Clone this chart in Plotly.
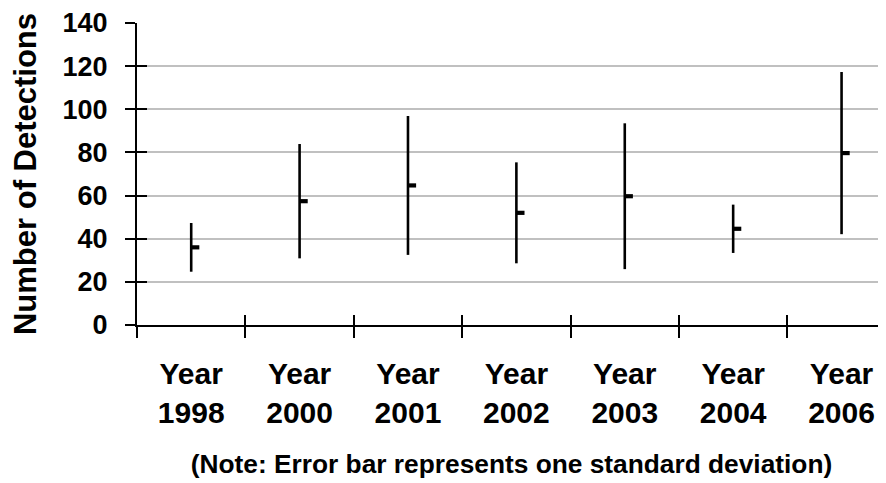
import plotly.graph_objects as go

categories = ["Year<br>1998", "Year<br>2000", "Year<br>2001", "Year<br>2002",
              "Year<br>2003", "Year<br>2004", "Year<br>2006"]
mean_detections = [36.0, 57.4, 64.7, 52.0, 59.7, 44.6, 79.7]
std_dev = [11.3, 26.5, 32.2, 23.4, 33.8, 11.2, 37.6]

y_ticks = [0, 20, 40, 60, 80, 100, 120, 140]

FONT = "Liberation Sans, Arial, sans-serif"

n = len(categories)
xpos = list(range(n))
boundaries = [i - 0.5 for i in range(n)]
x_range = [-0.5, n - 0.59]

fig = go.Figure()

# vertical lines: mean +/- one standard deviation
fig.add_trace(go.Scatter(
    x=xpos, y=mean_detections, mode="markers",
    marker=dict(size=1, color="rgba(0,0,0,0)"),
    error_y=dict(type="data", array=std_dev, visible=True,
                 color="black", thickness=2.6, width=0),
    hoverinfo="skip", showlegend=False,
))
# mean tick to the right of each line
fig.add_trace(go.Scatter(
    x=xpos, y=mean_detections, mode="markers",
    marker=dict(size=1, color="rgba(0,0,0,0)"),
    error_x=dict(type="data", symmetric=False,
                 array=[0.075] * n, arrayminus=[0] * n,
                 visible=True, color="black", thickness=4.2, width=0),
    hoverinfo="skip", showlegend=False,
))
# dummy traces for overlay axes (crossing ticks)
for xa, ya in [("x2", "y2"), ("x3", "y")]:
    fig.add_trace(go.Scatter(x=xpos, y=mean_detections, xaxis=xa, yaxis=ya,
                             mode="markers",
                             marker=dict(size=1, color="rgba(0,0,0,0)"),
                             hoverinfo="skip", showlegend=False))

fig.update_layout(
    width=878, height=475,
    margin=dict(l=129, r=0, t=15, b=158),
    plot_bgcolor="white", paper_bgcolor="white",
    font=dict(family=FONT, color="black"),
    xaxis=dict(
        range=x_range, tickvals=xpos, ticktext=categories,
        ticks="", showline=True, linecolor="black", linewidth=2,
        showgrid=False, zeroline=False, automargin=False,
        ticklabelstandoff=21,
        tickfont=dict(size=30, family=FONT, weight="bold"),
        title=dict(text="(Note: Error bar represents one standard deviation)",
                   font=dict(size=26.3, family=FONT, weight="bold"), standoff=27),
    ),
    yaxis=dict(
        range=[0, 140], tickvals=y_ticks, ticks="outside", ticklen=10,
        tickwidth=2, tickcolor="black", showline=True, linecolor="black",
        linewidth=2, showgrid=True, gridcolor="#C0C0C0", gridwidth=2,
        zeroline=False, ticklabelstandoff=12, automargin=False,
        tickfont=dict(size=27, family=FONT, weight="bold"),
        title=dict(text="Number of Detections",
                   font=dict(size=31, family=FONT, weight="bold"), standoff=24),
    ),
    xaxis2=dict(
        range=x_range, tickvals=boundaries, overlaying="x", side="bottom",
        anchor="y", ticks="outside", ticklen=12, tickwidth=2,
        tickcolor="black", showticklabels=False, automargin=False,
        showgrid=False, zeroline=False, showline=False,
    ),
    xaxis3=dict(
        range=x_range, tickvals=boundaries, overlaying="x", side="bottom",
        anchor="y", ticks="inside", ticklen=10, tickwidth=2,
        tickcolor="black", showticklabels=False, automargin=False,
        showgrid=False, zeroline=False, showline=False,
    ),
    yaxis2=dict(
        range=[0, 140], tickvals=y_ticks, overlaying="y", side="left",
        anchor="x", ticks="inside", ticklen=10, tickwidth=2, tickcolor="black",
        showticklabels=False, showgrid=False, zeroline=False, showline=False,
        automargin=False,
    ),
)

fig.write_html("out.html")
